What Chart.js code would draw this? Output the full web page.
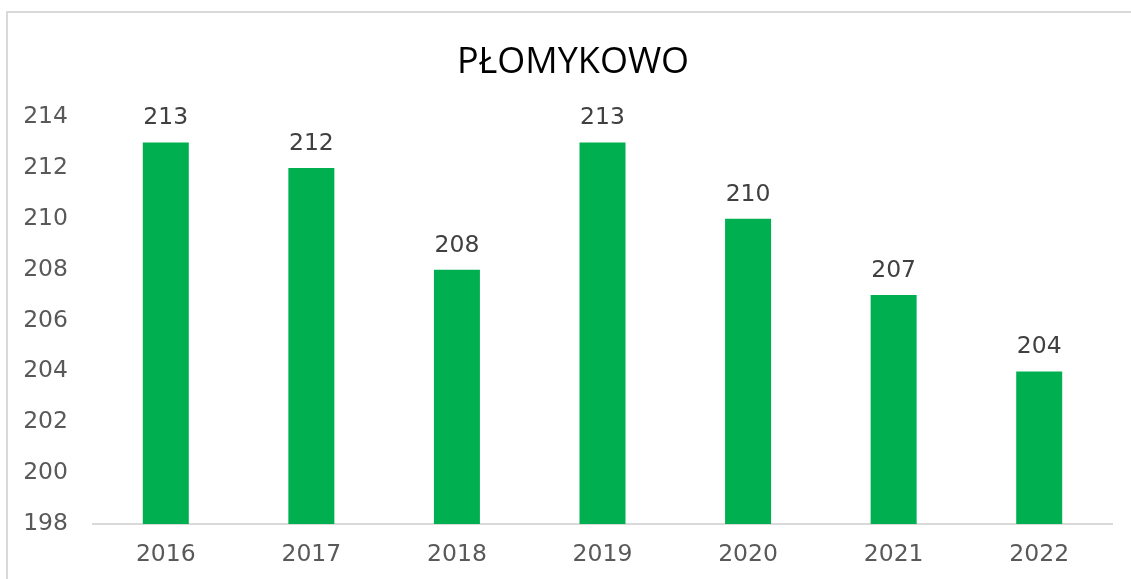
<!DOCTYPE html>
<html>
<head>
<meta charset="utf-8">
<script src="https://cdn.jsdelivr.net/npm/chart.js@4"></script>
<style>
  body { margin: 0; background: #fff; overflow: hidden; }
  #frame { position: absolute; left: 6px; top: 11px; width: 1200px; height: 700px; border: 2px solid #d9d9d9; box-sizing: border-box; }
  #wrap { position: absolute; left: 0; top: 0; width: 1131px; height: 579px; }
</style>
</head>
<body>
<div id="frame"></div>
<div id="wrap"><canvas id="plom_chart"></canvas></div>
<script>
var years = ["2016", "2017", "2018", "2019", "2020", "2021", "2022"];
var values = [213, 212, 208, 213, 210, 207, 204];
var chartTitle = "PŁOMYKOWO";

var txtFont = "'DejaVu Sans'";

// tytuł wyśrodkowany na całej ramce wykresu
var titleText = {
  id: "titleText",
  afterDraw: function (chart) {
    var ctx = chart.ctx;
    ctx.save();
    ctx.font = "36px 'Open Sans'";
    ctx.fillStyle = "#000";
    ctx.textAlign = "center";
    ctx.textBaseline = "alphabetic";
    ctx.fillText(chartTitle, 573, 73);
    ctx.restore();
  },
};

// etykiety wartości nad słupkami
var valueLabels = {
  id: "valueLabels",
  afterDatasetsDraw: function (chart) {
    var ctx = chart.ctx;
    var meta = chart.getDatasetMeta(0);
    ctx.save();
    ctx.font = "23.5px " + txtFont;
    ctx.fillStyle = "#404040";
    ctx.textAlign = "center";
    ctx.textBaseline = "alphabetic";
    meta.data.forEach(function (bar, i) {
      ctx.fillText(String(values[i]), bar.x, bar.y - 18);
    });
    ctx.restore();
  },
};

var ctx = document.getElementById("plom_chart").getContext("2d");
var plom_chart = new Chart(ctx, {
  type: "bar",
  data: {
    labels: years,
    datasets: [
      {
        data: values,
        backgroundColor: "#00b050",
        borderWidth: 0,
        categoryPercentage: 1,
        barPercentage: 0.316,
      },
    ],
  },
  options: {
    responsive: true,
    maintainAspectRatio: false,
    animation: false,
    layout: { padding: { left: 0, right: 19, top: 117, bottom: 0 } },
    scales: {
      x: {
        grid: { display: false, drawTicks: false },
        border: { display: true, color: "#d9d9d9", width: 2 },
        ticks: {
          color: "#595959",
          font: { family: txtFont, size: 23.5 },
          padding: 17,
        },
        afterFit: function (scale) { scale.height = 55; },
      },
      y: {
        min: 198,
        max: 214,
        grid: { display: false, drawTicks: false },
        border: { display: false },
        ticks: {
          stepSize: 2,
          color: "#595959",
          font: { family: txtFont, size: 23.5 },
          padding: 25,
        },
        afterFit: function (scale) { scale.width = 93; },
      },
    },
    plugins: {
      legend: { display: false },
      tooltip: { enabled: false },
      title: { display: false },
    },
  },
  plugins: [valueLabels, titleText],
});
</script>
</body>
</html>
